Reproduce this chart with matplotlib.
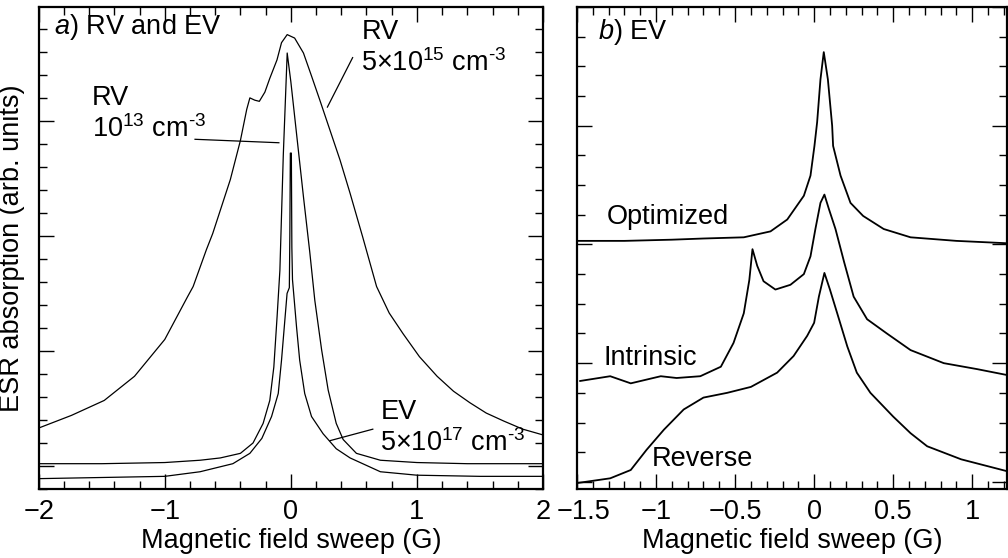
import matplotlib
matplotlib.use("Agg")
import matplotlib.pyplot as plt
from matplotlib.ticker import MultipleLocator, FuncFormatter
from matplotlib.transforms import ScaledTranslation

plt.rcParams['font.family'] = ['Liberation Sans', 'DejaVu Sans']
plt.rcParams['mathtext.fontset'] = 'custom'
plt.rcParams['mathtext.rm'] = 'Liberation Sans'
plt.rcParams['mathtext.it'] = 'Liberation Sans:italic'
plt.rcParams['mathtext.default'] = 'regular'

FS = 19.5

# ---------------- Panel a data ----------------
rv15_x = [-2.0, -1.74, -1.48, -1.24, -1.0, -0.82, -0.775, -0.67, -0.62, -0.48, -0.40, -0.35, -0.325,
          -0.286, -0.25, -0.206, -0.167, -0.11, -0.074, -0.029, 0.03, 0.10, 0.164, 0.23, 0.31,
          0.39, 0.47, 0.57, 0.68, 0.78, 0.89, 1.02, 1.16, 1.29, 1.42, 1.55, 1.69, 1.84, 2.0]
rv15_y = [1.33, 1.44, 1.57, 1.78, 2.10, 2.47, 2.56, 2.88, 3.02, 3.49, 3.83, 4.10, 4.20,
          4.18, 4.17, 4.25, 4.37, 4.53, 4.68, 4.75, 4.72, 4.59, 4.39, 4.18, 3.92,
          3.66, 3.37, 2.99, 2.56, 2.33, 2.15, 1.95, 1.78, 1.65, 1.55, 1.46, 1.39, 1.32, 1.27]

rv13_x = [-2.0, -1.5, -1.0, -0.72, -0.56, -0.40, -0.30, -0.22, -0.167, -0.135, -0.109, -0.087,
          -0.06, -0.029, 0.0, 0.05, 0.10, 0.15, 0.19, 0.244, 0.296, 0.36, 0.415, 0.52, 0.71,
          1.0, 1.4, 2.0]
rv13_y = [1.02, 1.02, 1.03, 1.05, 1.07, 1.11, 1.20, 1.37, 1.57, 1.86, 2.30, 2.70,
          3.70, 4.59, 4.34, 3.84, 3.34, 2.86, 2.44, 2.01, 1.66, 1.37, 1.23, 1.11, 1.05,
          1.03, 1.02, 1.02]

ev_x = [-2.0, -1.5, -1.0, -0.72, -0.46, -0.325, -0.23, -0.153, -0.10, -0.074, -0.03, -0.012,
        -0.008, -0.004, 0.004, 0.008, 0.013, 0.045, 0.07, 0.11, 0.164, 0.256, 0.36, 0.47, 0.71,
        1.0, 1.5, 2.0]
ev_y = [0.89, 0.90, 0.91, 0.95, 1.02, 1.11, 1.24, 1.43, 1.63, 1.92, 2.50, 2.55,
        3.00, 3.72, 3.72, 2.90, 2.62, 2.21, 1.92, 1.63, 1.43, 1.28, 1.15, 1.07, 0.95,
        0.92, 0.91, 0.91]

# ---------------- Panel b data ----------------
opt_x = [-1.5, -1.2, -0.9, -0.7, -0.445, -0.276, -0.17, -0.065, -0.023, 0.002, 0.019, 0.04,
         0.061, 0.087, 0.114, 0.12, 0.167, 0.23, 0.31, 0.44, 0.61, 0.9, 1.22]
opt_y = [3.03, 3.03, 3.04, 3.05, 3.06, 3.11, 3.21, 3.41, 3.58, 3.83, 4.03, 4.39,
         4.62, 4.39, 4.00, 3.83, 3.58, 3.35, 3.24, 3.13, 3.06, 3.03, 3.01]

int_x = [-1.48, -1.29, -1.16, -0.97, -0.87, -0.72, -0.59, -0.51, -0.445, -0.41, -0.39, -0.36,
         -0.32, -0.245, -0.15, -0.065, -0.023, 0.008, 0.04, 0.065, 0.093, 0.135, 0.19, 0.25,
         0.335, 0.46, 0.61, 0.82, 1.03, 1.22]
int_y = [1.85, 1.89, 1.83, 1.89, 1.875, 1.89, 1.97, 2.17, 2.42, 2.70, 2.96, 2.82,
         2.69, 2.62, 2.66, 2.75, 2.90, 3.13, 3.35, 3.42, 3.30, 3.13, 2.85, 2.56,
         2.37, 2.25, 2.11, 2.00, 1.95, 1.90]

rev_x = [-1.5, -1.29, -1.16, -1.06, -0.95, -0.825, -0.70, -0.55, -0.40, -0.234, -0.13, -0.044,
         0.0, 0.03, 0.065, 0.10, 0.146, 0.21, 0.27, 0.356, 0.50, 0.61, 0.715, 0.93, 1.22]
rev_y = [0.99, 1.03, 1.10, 1.27, 1.44, 1.61, 1.71, 1.75, 1.80, 1.92, 2.06, 2.23,
         2.34, 2.56, 2.76, 2.62, 2.42, 2.14, 1.92, 1.75, 1.55, 1.41, 1.30, 1.19, 1.09]

W, H = 1008, 558
fig = plt.figure(figsize=(W / 100, H / 100), dpi=100)

axA = fig.add_axes([38.7 / W, 1 - 489 / H, (543 - 38.7) / W, (489 - 7) / H])
axB = fig.add_axes([577 / W, 1 - 489 / H, (1007 - 577) / W, (489 - 7) / H])

lw = 0.9
axA.plot(rv15_x, rv15_y, color='black', lw=lw)
axA.plot(rv13_x, rv13_y, color='black', lw=lw)
axA.plot(ev_x, ev_y, color='black', lw=lw)

axB.plot(opt_x, opt_y, color='black', lw=1.3)
axB.plot(int_x, int_y, color='black', lw=1.3)
axB.plot(rev_x, rev_y, color='black', lw=1.3)

axA.set_xlim(-2, 2)
axA.set_ylim(0.8, 4.99)
axB.set_xlim(-1.5, 1.22)
axB.set_ylim(0.94, 5.0)

axA.xaxis.set_major_locator(MultipleLocator(1))
axA.xaxis.set_minor_locator(MultipleLocator(0.2))
axA.yaxis.set_major_locator(MultipleLocator(1))
axA.yaxis.set_minor_locator(MultipleLocator(0.2))
axB.xaxis.set_major_locator(MultipleLocator(0.5))
axB.xaxis.set_minor_locator(MultipleLocator(0.1))
axB.yaxis.set_major_locator(MultipleLocator(1))
axB.yaxis.set_minor_locator(MultipleLocator(0.25))

fmt = FuncFormatter(lambda v, p: ('%g' % round(v, 3)).replace('-', '\u2212'))
for ax in (axA, axB):
    ax.xaxis.set_major_formatter(fmt)
    for s in ax.spines.values():
        s.set_linewidth(1.6)
    ax.tick_params(which='both', direction='in', top=True, right=True, width=1.0,
                   labelsize=FS, pad=7)
    ax.tick_params(which='major', length=11)
    ax.tick_params(which='minor', length=5.5)
    ax.tick_params(axis='y', labelleft=False)
    ax.set_xlabel('Magnetic field sweep (G)', fontsize=FS, labelpad=2)

fig.text(12 / W, 1 - 248 / H, 'ESR absorption (arb. units)', rotation=90,
         ha='center', va='center', fontsize=FS)

# Panel a annotations
axA.text(-1.88, 4.82, r'$\it{a}$) RV and EV', fontsize=FS, va='center', ha='left')
axA.text(0.56, 4.77, 'RV', fontsize=FS, va='center', ha='left')
axA.text(0.56, 4.50, r'5×10$^{15}$ cm$^{\text{-3}}$', fontsize=FS, va='center', ha='left')
axA.plot([0.49, 0.29], [4.55, 4.12], color='black', lw=0.9)
axA.text(-1.58, 4.20, 'RV', fontsize=FS, va='center', ha='left')
axA.text(-1.58, 3.93, r'10$^{13}$ cm$^{\text{-3}}$', fontsize=FS, va='center', ha='left')
axA.plot([-0.76, -0.095], [3.84, 3.81], color='black', lw=0.9)
axA.text(0.71, 1.47, 'EV', fontsize=FS, va='center', ha='left')
axA.text(0.71, 1.20, r'5×10$^{17}$ cm$^{\text{-3}}$', fontsize=FS, va='center', ha='left')
axA.plot([0.65, 0.31], [1.32, 1.22], color='black', lw=0.9)

# Panel b annotations
axB.text(-1.37, 4.79, r'$\it{b}$) EV', fontsize=FS, va='center', ha='left')
axB.text(-1.31, 3.23, 'Optimized', fontsize=FS, va='center', ha='left')
axB.text(-1.33, 2.04, 'Intrinsic', fontsize=FS, va='center', ha='left')
axB.text(-1.03, 1.19, 'Reverse', fontsize=FS, va='center', ha='left')

# nudge the first right-panel tick label so it does not collide with "2"
fig.canvas.draw()
for lab in axB.get_xticklabels():
    if lab.get_text() == '\u22121.5':
        lab.set_transform(lab.get_transform() + ScaledTranslation(7 / 100, 0, fig.dpi_scale_trans))

fig.savefig('out.png', dpi=100)
